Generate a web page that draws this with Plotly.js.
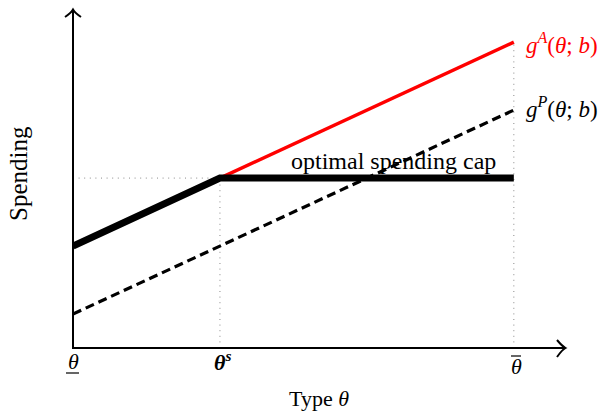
<!DOCTYPE html>
<html>
<head>
<meta charset="utf-8">
<script src="https://cdn.plot.ly/plotly-3.0.1.min.js"></script>
<style>
  html, body { margin: 0; padding: 0; background: #fff; }
  #chart { width: 602px; height: 411px; }
</style>
</head>
<body>
<div id="chart"></div>
<script>
// Types: lowest, threshold (theta^s) and highest
const thetaLow = 0;
const thetaS = 1;
const thetaHigh = 3;

// Agent's preferred spending g^A and principal's preferred spending g^P
const gAThetas = [thetaS, thetaHigh];
const gAValues = [2.5, 4.5];
const gPThetas = [thetaLow, thetaHigh];
const gPValues = [0.5, 3.5];

// Optimal spending with the cap: follows g^A up to theta^s, flat afterwards
const capThetas = [thetaLow, thetaS, thetaHigh];
const capValues = [1.5, 2.5, 2.5];
const capLevel = 2.5;

// Axis extents
const xMax = 3.6;
const yMax = 5.12;

const serif = 'Liberation Serif, Times New Roman, serif';
const W = 602, H = 411;
const M = { l: 73, r: 0, t: 0, b: 63 };
const plotW = W - M.l - M.r, plotH = H - M.t - M.b;

// pixel -> paper helpers for the hand-drawn axes
const px = x => (x - M.l) / plotW;
const py = y => (H - M.b - y) / plotH;
const P = (x, y) => px(x).toFixed(5) + ',' + py(y).toFixed(5);

const dotted = { color: '#8a8a8a', width: 1, dash: '1px,4.6px' };

const traces = [
  // guide lines
  { x: [thetaLow, thetaS], y: [capLevel, capLevel], mode: 'lines', line: dotted, hoverinfo: 'skip' },
  { x: [thetaS, thetaS], y: [0, capLevel], mode: 'lines', line: dotted, hoverinfo: 'skip' },
  { x: [thetaHigh, thetaHigh], y: [0, gAValues[1]], mode: 'lines', line: dotted, hoverinfo: 'skip' },
  // principal
  { x: gPThetas, y: gPValues, mode: 'lines', line: { color: '#000', width: 3.2, dash: '9px,5px' }, hoverinfo: 'skip' },
  // agent
  { x: gAThetas, y: gAValues, mode: 'lines', line: { color: '#ff0000', width: 3.5 }, hoverinfo: 'skip' },
  // capped spending
  { x: capThetas, y: capValues, mode: 'lines', line: { color: '#000', width: 7 }, hoverinfo: 'skip' }
];

const axisLine = { color: '#000', width: 2 };
const shapes = [
  { type: 'line', xref: 'paper', yref: 'paper', x0: px(72), y0: py(348), x1: px(564), y1: py(348), line: axisLine },
  { type: 'line', xref: 'paper', yref: 'paper', x0: px(73), y0: py(349), x1: px(73), y1: py(11), line: axisLine },
  { type: 'path', xref: 'paper', yref: 'paper', line: axisLine,
    path: 'M ' + P(557, 340) + ' Q ' + P(562, 346) + ' ' + P(565.5, 348) + ' Q ' + P(562, 350) + ' ' + P(557, 357) },
  { type: 'path', xref: 'paper', yref: 'paper', line: axisLine,
    path: 'M ' + P(65, 17) + ' Q ' + P(71, 13) + ' ' + P(73, 9.5) + ' Q ' + P(75, 13) + ' ' + P(81, 17) },
  // bar under theta (lowest type) and over theta (highest type)
  { type: 'line', xref: 'paper', yref: 'paper', x0: px(66), y0: py(373), x1: px(79), y1: py(373), line: { color: '#000', width: 1.2 } },
  { type: 'line', xref: 'paper', yref: 'paper', x0: px(511), y0: py(356), x1: px(521), y1: py(356), line: { color: '#000', width: 1.2 } }
];

const txt = (text, x, y, size, opts) => Object.assign({
  text: text, xref: 'paper', yref: 'paper', x: px(x), y: py(y),
  showarrow: false, xanchor: 'center', yanchor: 'middle',
  font: { family: serif, size: size, color: '#000' }
}, opts || {});

const annotations = [
  txt('<i>θ</i>', 73, 362, 22),
  txt('<b><i>θ</i><sup><i>s</i></sup></b>', 222, 361, 22),
  txt('<i>θ</i>', 516, 367, 22),
  txt('Type <i>θ</i>', 319, 398, 22),
  txt('Spending', 18, 174, 25, { textangle: -90 }),
  txt('optimal spending cap', 393, 161, 24),
  txt('<i>g</i><sup><i>A</i></sup>(<i>θ</i>; <i>b</i>)', 524, 43, 23,
      { xanchor: 'left', font: { family: serif, size: 23, color: '#ff0000' } }),
  txt('<i>g</i><sup><i>P</i></sup>(<i>θ</i>; <i>b</i>)', 524, 108, 23, { xanchor: 'left' })
];

const layout = {
  width: W, height: H,
  margin: M,
  paper_bgcolor: '#fff', plot_bgcolor: '#fff',
  showlegend: false,
  xaxis: { range: [0, xMax], visible: false, fixedrange: true },
  yaxis: { range: [0, yMax], visible: false, fixedrange: true },
  shapes: shapes,
  annotations: annotations
};

Plotly.newPlot('chart', traces, layout, { displayModeBar: false });
</script>
</body>
</html>
